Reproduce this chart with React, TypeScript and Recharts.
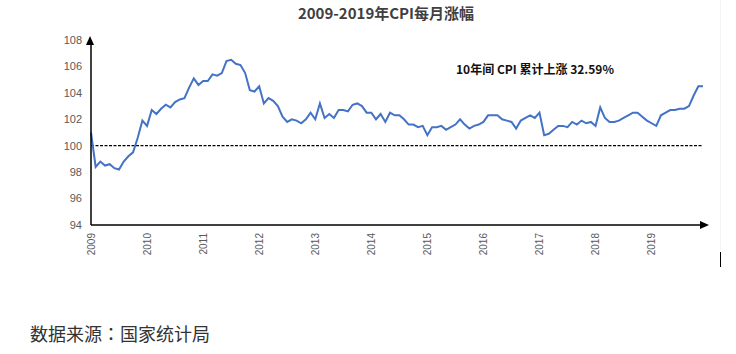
import { LineChart, Line, XAxis, YAxis, ReferenceLine, ReferenceDot } from 'recharts'

// CPI (上年同月=100), 2009-01 .. 2019-12
const YEARS = ['2009', '2010', '2011', '2012', '2013', '2014', '2015', '2016', '2017', '2018', '2019']

const CPI: number[][] = [
  [101.0, 98.4, 98.8, 98.5, 98.6, 98.3, 98.2, 98.8, 99.2, 99.5, 100.6, 101.9],
  [101.5, 102.7, 102.4, 102.8, 103.1, 102.9, 103.3, 103.5, 103.6, 104.4, 105.1, 104.6],
  [104.9, 104.9, 105.4, 105.3, 105.5, 106.4, 106.5, 106.2, 106.1, 105.5, 104.2, 104.1],
  [104.5, 103.2, 103.6, 103.4, 103.0, 102.2, 101.8, 102.0, 101.9, 101.7, 102.0, 102.5],
  [102.0, 103.2, 102.1, 102.4, 102.1, 102.7, 102.7, 102.6, 103.1, 103.2, 103.0, 102.5],
  [102.5, 102.0, 102.4, 101.8, 102.5, 102.3, 102.3, 102.0, 101.6, 101.6, 101.4, 101.5],
  [100.8, 101.4, 101.4, 101.5, 101.2, 101.4, 101.6, 102.0, 101.6, 101.3, 101.5, 101.6],
  [101.8, 102.3, 102.3, 102.3, 102.0, 101.9, 101.8, 101.3, 101.9, 102.1, 102.3, 102.1],
  [102.5, 100.8, 100.9, 101.2, 101.5, 101.5, 101.4, 101.8, 101.6, 101.9, 101.7, 101.8],
  [101.5, 102.9, 102.1, 101.8, 101.8, 101.9, 102.1, 102.3, 102.5, 102.5, 102.2, 101.9],
  [101.7, 101.5, 102.3, 102.5, 102.7, 102.7, 102.8, 102.8, 103.0, 103.8, 104.5, 104.5],
]

const Y_TICKS = [94, 96, 98, 100, 102, 104, 106, 108]
const BASELINE = 100

const TITLE = '2009-2019年CPI每月涨幅'
const NOTE = '10年间 CPI 累计上涨 32.59%'
const SOURCE = '数据来源：国家统计局'

const data = YEARS.flatMap((year, i) =>
  CPI[i].map((value, m) => ({
    month: `${year}-${String(m + 1).padStart(2, '0')}`,
    value,
  })),
)

const firstMonth = data[0].month
const lastMonth = data[data.length - 1].month

const TICK_FONT = '"Liberation Sans", Arial, sans-serif'
const CJK_FONT = '"Noto Sans CJK SC", "Noto Sans", sans-serif'

function YearTick({ x, y, payload }: any) {
  return (
    <text
      x={x}
      y={y}
      transform={`rotate(-90, ${x}, ${y})`}
      textAnchor="end"
      dy="0.35em"
      fontSize={10}
      fill="#595959"
      fontFamily={TICK_FONT}
    >
      {String(payload.value).slice(0, 4)}
    </text>
  )
}

function UpArrow({ cx, cy }: any) {
  return <polygon points={`${cx - 1},${cy - 4} ${cx - 5},${cy + 5} ${cx + 3},${cy + 5}`} fill="#000" />
}

function RightArrow({ cx, cy }: any) {
  return <polygon points={`${cx + 6},${cy} ${cx - 3},${cy - 4} ${cx - 3},${cy + 4}`} fill="#000" />
}

export default function App() {
  return (
    <div style={{ position: 'absolute', left: 0, top: 0, width: 736, height: 354, background: '#fff' }}>
      <div
        style={{
          position: 'absolute',
          left: 236,
          width: 300,
          top: 2,
          textAlign: 'center',
          fontFamily: CJK_FONT,
          fontWeight: 700,
          fontSize: 15,
          color: '#404040',
        }}
      >
        {TITLE}
      </div>
      <div
        style={{
          position: 'absolute',
          left: 456,
          top: 60,
          fontFamily: CJK_FONT,
          fontWeight: 700,
          fontSize: 12,
          color: '#111',
          whiteSpace: 'nowrap',
        }}
      >
        {NOTE}
      </div>
      <LineChart width={736} height={354} data={data} margin={{ top: 40, right: 33, bottom: 89, left: 0 }}>
        <YAxis
          width={91}
          domain={[94, 108]}
          ticks={Y_TICKS}
          axisLine={{ stroke: '#000', strokeWidth: 1.5 }}
          tickLine={false}
          tick={{ fontSize: 11, fill: '#595959', fontFamily: TICK_FONT }}
          tickMargin={3}
        />
        <XAxis
          dataKey="month"
          height={40}
          interval={11}
          axisLine={{ stroke: '#000', strokeWidth: 1.5 }}
          tickLine={false}
          tick={<YearTick />}
          padding={{ left: 0, right: 0 }}
        />
        <ReferenceLine y={BASELINE} stroke="#000" strokeDasharray="3 1.5" strokeWidth={1.3} />
        <Line
          type="linear"
          dataKey="value"
          stroke="#4472C4"
          strokeWidth={2}
          dot={false}
          isAnimationActive={false}
        />
        <ReferenceDot x={firstMonth} y={108} ifOverflow="visible" shape={<UpArrow />} />
        <ReferenceDot x={lastMonth} y={94} ifOverflow="visible" shape={<RightArrow />} />
      </LineChart>
      <div style={{ position: 'absolute', left: 720, top: 0, width: 1, height: 250, background: '#f4f4f4' }} />
      <div style={{ position: 'absolute', left: 720, top: 252, width: 1, height: 15, background: '#000' }} />
      <div
        style={{
          position: 'absolute',
          left: 30,
          top: 320,
          fontFamily: '"Noto Sans CJK JP", "Noto Sans CJK SC", sans-serif',
          fontSize: 18,
          color: '#333',
          whiteSpace: 'nowrap',
        }}
      >
        {SOURCE}
      </div>
    </div>
  )
}
